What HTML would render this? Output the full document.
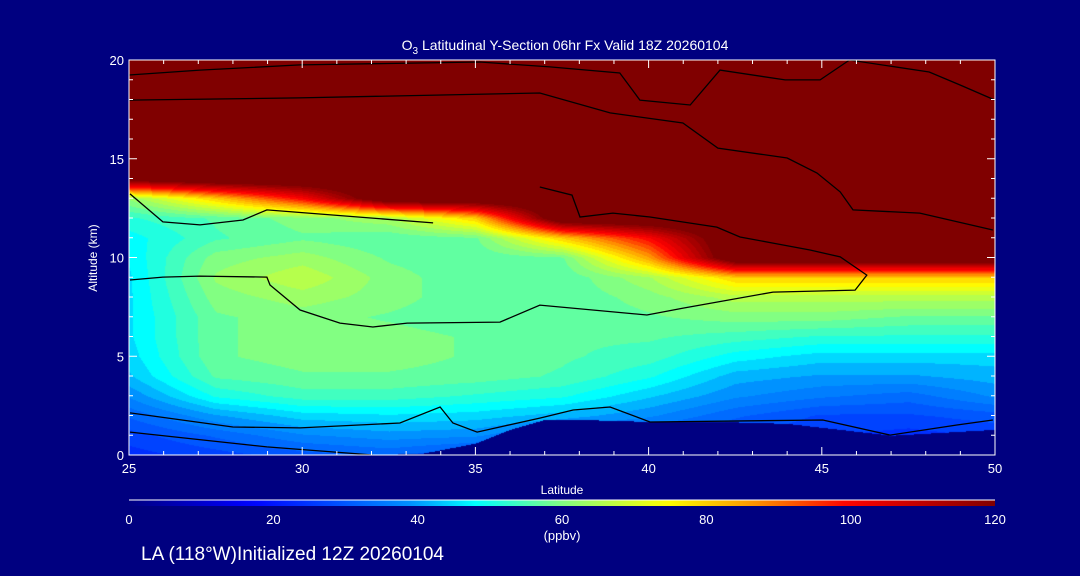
<!DOCTYPE html>
<html><head><meta charset="utf-8"><style>
body{margin:0;background:#000080;width:1080px;height:576px;overflow:hidden;font-family:"Liberation Sans",sans-serif;color:#fff}
#c{position:absolute;left:129px;top:60px}
svg{position:absolute;left:0;top:0}
text{fill:#fff;font-family:"Liberation Sans",sans-serif}
</style></head><body>
<canvas id="c" width="866" height="395"></canvas>
<svg id="s" width="1080" height="576"></svg>
<script>
const lats=[25,27.5,30,32.5,35,37.5,40,42.5,45,47.5,50];
const alts=[0,1,2,3,4,5,6,7,8,9,10,11,12,13,14,15,16,17,18,19,20];
const o3=[
[24,27,30,32,28,0,0,0,0,0,0],
[27,32,37,39,38,32,30,28,26,24,26],
[32,40,45,46,45,42,38,32,28,28,30],
[38,50,54,54,52,50,44,38,35,33,38],
[43,56,58,58,57,55,50,42,40,40,42],
[45,58,60,60,58,56,54,48,45,45,45],
[46,58,60,60,58,56,56,54,52,52,52],
[46,58,60,58,56,56,58,60,60,58,58],
[46,60,63,60,56,56,60,66,66,66,66],
[46,62,67,60,56,56,64,80,80,80,80],
[47,60,63,58,56,58,85,130,130,130,130],
[48,55,58,56,58,80,100,130,130,130,130],
[52,56,60,64,80,130,130,130,130,130,130],
[62,80,100,130,130,130,130,130,130,130,130],
[125,130,130,130,130,130,130,130,130,130,130],
[130,130,130,130,130,130,130,130,130,130,130],
[130,130,130,130,130,130,130,130,130,130,130],
[130,130,130,130,130,130,130,130,130,130,130],
[130,130,130,130,130,130,130,130,130,130,130],
[130,130,130,130,130,130,130,130,130,130,130],
[130,130,130,130,130,130,130,130,130,130,130]];
const terrainLat=[25,32,33.5,35,36,37,38,40,42,44,45.5,47,48,50];
const terrainKm=[0,0,0.1,0.6,1.3,1.8,1.8,1.7,1.7,1.6,1.3,1.0,1.1,1.3];
const xTicks=[25,30,35,40,45,50];
const yTicks=[0,5,10,15,20];
const cbTicks=[0,20,40,60,80,100,120];
const contourLat=[
[25,27.05,29.94,35.13,37.15,39.17,39.75,41.2,42.06,43.94,44.95,45.8,48.1,49.0,50],
[25,29.9,36.86,38.89,40.99,42.0,44.0,44.86,45.53,45.9,47.83,49.94],
[25.03,25.98,27.05,28.98,29.07,29.94,31.09,32.04,33.03,35.71,36.86,39.95,41.0,43.59,45.96,46.3,45.53,44.66,43.59,42.64,41.97,40.04,38.97,38.02,37.79,36.86],
[25.03,28.0,29.94,32.82,33.98,34.35,35.05,36.86,37.82,38.89,40.04,45.03,46.97,48.9,49.94],
[25.03,28.98,32.04],
[25.03,25.98,27.05,28.29,28.98,33.78]];
const contourKm=[
[19.24,19.49,19.75,19.9,19.65,19.34,17.97,17.72,19.49,18.99,18.99,20,19.39,18.73,17.97],
[17.97,18.08,18.33,17.32,16.81,15.54,15.04,14.28,13.32,12.41,12.25,11.39],
[8.86,9.01,9.06,9.01,8.61,7.34,6.68,6.48,6.68,6.73,7.59,7.09,7.44,8.25,8.35,9.11,10.03,10.38,10.73,11.04,11.54,12.05,12.25,12.05,13.16,13.57],
[2.13,1.42,1.37,1.62,2.43,1.62,1.16,1.87,2.28,2.43,1.67,1.77,1.01,1.52,1.77],
[1.16,0.41,0],
[13.22,11.8,11.65,11.9,12.41,11.75]];

const X0=129,X1=995,Y0=455,Y1=60;
const xs=v=>X0+(v-25)/25*(X1-X0);
const ys=v=>Y0-(v/20)*(Y0-Y1);
function jet(v){let t=Math.max(0,Math.min(1,v/120));
 const stops=[[0,0,0,130],[0.14,0,0,255],[0.33,0,150,255],[0.4,0,255,255],[0.5,130,255,130],[0.62,255,255,0],[0.72,255,150,0],[0.83,255,0,0],[1,128,0,0]];
 for(let i=1;i<stops.length;i++){if(t<=stops[i][0]){const a=stops[i-1],b=stops[i],f=(t-a[0])/(b[0]-a[0]);return [a[1]+f*(b[1]-a[1]),a[2]+f*(b[2]-a[2]),a[3]+f*(b[3]-a[3])];}}
 return [128,0,0];}
function interp(arrX,arrY,x){for(let i=1;i<arrX.length;i++)if(x<=arrX[i]){const f=(x-arrX[i-1])/(arrX[i]-arrX[i-1]);return arrY[i-1]+f*(arrY[i]-arrY[i-1]);}return arrY[arrY.length-1];}
function val(lat,km){let i=0;while(i<lats.length-2&&lat>lats[i+1])i++;let j=0;while(j<alts.length-2&&km>alts[j+1])j++;
 const fx=(lat-lats[i])/(lats[i+1]-lats[i]),fy=(km-alts[j])/(alts[j+1]-alts[j]);
 const a=o3[j][i],b=o3[j][i+1],c=o3[j+1][i],d=o3[j+1][i+1];
 return (a*(1-fx)+b*fx)*(1-fy)+(c*(1-fx)+d*fx)*fy;}
const cv=document.getElementById('c'),ctx=cv.getContext('2d'),W=cv.width,H=cv.height,img=ctx.createImageData(W,H);
for(let py=0;py<H;py++)for(let px=0;px<W;px++){const lat=25+px/W*25,km=20-py/H*20;
 let v=val(lat,km);const t=interp(terrainLat,terrainKm,lat);if(km<t)v=0;
 v=Math.round(v/3)*3;const c=jet(v),k=(py*W+px)*4;img.data[k]=c[0];img.data[k+1]=c[1];img.data[k+2]=c[2];img.data[k+3]=255;}
ctx.putImageData(img,0,0);

const s=document.getElementById('s'),NS='http://www.w3.org/2000/svg';
function el(t,a,txt){const e=document.createElementNS(NS,t);for(const k in a)e.setAttribute(k,a[k]);if(txt!==undefined)e.textContent=txt;s.appendChild(e);return e;}
let e;
contourLat.forEach((la,i)=>{const pts=la.map((v,j)=>xs(v).toFixed(1)+','+ys(contourKm[i][j]).toFixed(1)).join(' ');
 e=el('polyline',{points:pts,fill:'none',stroke:'#000','stroke-width':1.3});
 
 });
e=el('rect',{x:X0,y:Y1,width:X1-X0,height:Y0-Y1,fill:'none',stroke:'#fff','stroke-width':1});


for(let v=25;v<=50;v++){const big=v%5===0,L=big?8:4;
 e=el('line',{x1:xs(v),x2:xs(v),y1:Y0,y2:Y0-L,stroke:'#fff'});
 
 
 e=el('line',{x1:xs(v),x2:xs(v),y1:Y1,y2:Y1+L,stroke:'#fff'});
 
 }
xTicks.forEach(v=>{e=el('text',{x:xs(v),y:Y0+18,'font-size':13,'text-anchor':'middle'},v);
 
 });
for(let v=0;v<=20;v++){const L=v%5===0?8:4;
 e=el('line',{x1:X0,x2:X0+L,y1:ys(v),y2:ys(v),stroke:'#fff'});
 
 
 e=el('line',{x1:X1,x2:X1-L,y1:ys(v),y2:ys(v),stroke:'#fff'});
 
 }
yTicks.forEach(v=>{e=el('text',{x:X0-5,y:ys(v)+5,'font-size':13,'text-anchor':'end'},v);
 
 });
e=el('text',{x:565,y:50,'font-size':14,'text-anchor':'middle'});


e.innerHTML='O<tspan dy="4" font-size="10">3</tspan><tspan dy="-4"> Latitudinal Y-Section 06hr  Fx Valid 18Z 20260104</tspan>';
e=el('text',{x:97,y:258,'font-size':12,'text-anchor':'middle',transform:'rotate(-90 97 258)'},'Altitude (km)');


e=el('text',{x:562,y:494,'font-size':12,'text-anchor':'middle'},'Latitude');


const g=el('defs',{});g.innerHTML='<linearGradient id="cb">'+Array.from({length:41},(_,i)=>{const c=jet(i*3);return `<stop offset="${i/40}" stop-color="rgb(${c.map(Math.round)})"/>`}).join('')+'</linearGradient>';
e=el('rect',{x:X0,y:500,width:X1-X0,height:6,fill:'url(#cb)'});


e=el('line',{x1:X0,x2:X1,y1:500,y2:500,stroke:'#fff'});


cbTicks.forEach(v=>{e=el('text',{x:X0+v/120*(X1-X0),y:524,'font-size':13,'text-anchor':'middle'},v);
 
 });
e=el('text',{x:562,y:540,'font-size':13,'text-anchor':'middle'},'(ppbv)');


e=el('text',{x:141,y:560,'font-size':19},'LA (118°W)Initialized 12Z 20260104');


</script>
</body></html>
